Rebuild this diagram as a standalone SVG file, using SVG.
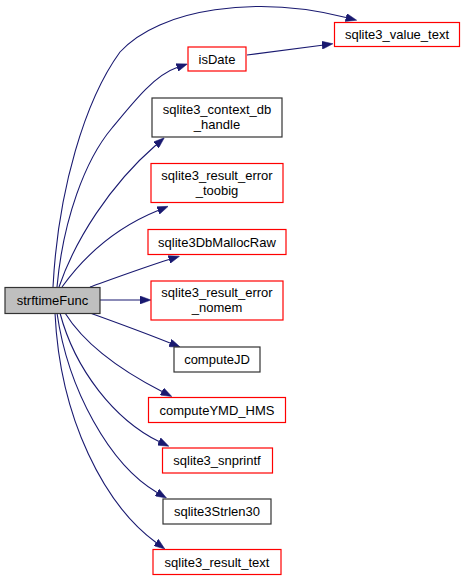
<svg xmlns="http://www.w3.org/2000/svg" width="465" height="581" viewBox="0 0 465 581">
<style>
.n rect{fill:#fff;stroke-width:1.2}
.r rect{stroke:#ff0000}
.k rect{stroke:#333}
.cur rect{fill:#bfbfbf;stroke:#333}
text{font-family:"Liberation Sans",Arial,sans-serif;font-size:13px;text-anchor:middle;fill:#000}
#edges path{fill:none;stroke:#191970;stroke-width:1.1;marker-end:url(#ah)}
</style>
<defs>
<marker id="ah" viewBox="0 -4 11 8" refX="0" refY="0" markerWidth="11" markerHeight="8" markerUnits="userSpaceOnUse" orient="auto">
<path d="M0,-4 L11,0 L0,4 z" fill="#191970" stroke="#191970" stroke-width="0.5"/>
</marker>
</defs>
<rect width="465" height="581" fill="#fff"/>
<g id="edges">
<path d="M53,287 C58,190 85,100 120,52 C160,8 258,-5 346,17.5"/>
<path d="M57,287 C63,220 85,160 112,128 C135,100 155,75 177,67.5"/>
<path d="M59,287 C75,240 110,185 156,145"/>
<path d="M62,287 C85,255 115,228 158,210.5"/>
<path d="M90,287 C115,278 145,267 169,259.5"/>
<path d="M100,300 L140,300"/>
<path d="M90,313 C115,322 145,333 170,343"/>
<path d="M65,313 C85,345 120,370 162,391.5"/>
<path d="M60,313 C75,370 115,420 159,441.5"/>
<path d="M57,313 C68,390 110,465 157,492.5"/>
<path d="M55,313 C60,420 105,505 156,542.5"/>
<path d="M247,55 L322,45.2"/>
</g>
<g id="strftimeFunc" class="n cur"><rect x="5" y="287.5" width="95" height="26"/><text x="52.5" y="305">strftimeFunc</text></g>
<g id="sqlite3_value_text" class="n r"><rect x="334.5" y="22.5" width="125" height="24"/><text x="397" y="39">sqlite3_value_text</text></g>
<g id="isDate" class="n r"><rect x="188" y="47" width="58" height="24"/><text x="217" y="64">isDate</text></g>
<g id="sqlite3_context_db_handle" class="n k"><rect x="152" y="98" width="130" height="39"/><text x="217" y="114">sqlite3_context_db</text><text x="217" y="129">_handle</text></g>
<g id="sqlite3_result_error_toobig" class="n r"><rect x="151" y="163.5" width="132" height="39"/><text x="217" y="179.5">sqlite3_result_error</text><text x="217" y="194.5">_toobig</text></g>
<g id="sqlite3DbMallocRaw" class="n r"><rect x="148" y="229.5" width="138" height="25"/><text x="217" y="246.5">sqlite3DbMallocRaw</text></g>
<g id="sqlite3_result_error_nomem" class="n r"><rect x="151" y="281" width="132" height="39"/><text x="217" y="297">sqlite3_result_error</text><text x="217" y="312">_nomem</text></g>
<g id="computeJD" class="n k"><rect x="174" y="347" width="86" height="25"/><text x="217" y="364">computeJD</text></g>
<g id="computeYMD_HMS" class="n r"><rect x="148.5" y="397.5" width="137" height="25"/><text x="217" y="414.5">computeYMD_HMS</text></g>
<g id="sqlite3_snprintf" class="n r"><rect x="162.5" y="448" width="110" height="25"/><text x="217" y="465">sqlite3_snprintf</text></g>
<g id="sqlite3Strlen30" class="n k"><rect x="163" y="499" width="108" height="25"/><text x="217" y="516">sqlite3Strlen30</text></g>
<g id="sqlite3_result_text" class="n r"><rect x="153" y="549.5" width="128" height="25"/><text x="217" y="566.5">sqlite3_result_text</text></g>
</svg>
